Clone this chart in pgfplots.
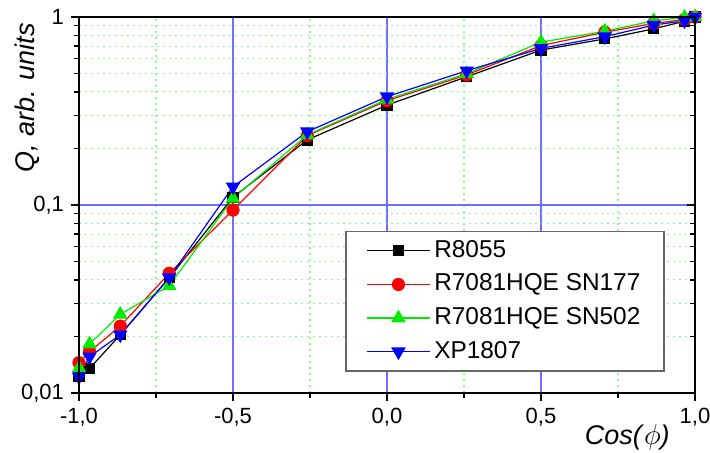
\documentclass[border=0pt]{standalone}
\usepackage{fontspec}
\setmainfont{Liberation Sans}
\usepackage{pgfplots}
\pgfplotsset{compat=1.18}
\definecolor{cgreen}{RGB}{0,235,0}
\definecolor{cblue}{RGB}{0,0,255}
\definecolor{cred}{RGB}{255,0,0}
\definecolor{majgrid}{RGB}{110,110,255}
\definecolor{mingrid}{RGB}{140,250,140}
\begin{document}
\begin{tikzpicture}
\begin{axis}[
  width=308pt, height=188pt, scale only axis,
  xmin=-1, xmax=1, ymin=0.01, ymax=1, ymode=log,
  axis line style={line width=0.8pt},
  xtick={-1,-0.5,0,0.5,1},
  xticklabels={{-1,0},{-0,5},{0,0},{0,5},{1,0}},
  minor x tick num=1,
  ytick={0.01,0.1,1},
  yticklabels={{0,01},{0,1},{1}},
  xtick pos=bottom, ytick pos=left,
  tick align=outside,
  major tick length=4pt, minor tick length=2.5pt,
  every tick/.style={black, line width=0.7pt},
  grid=both,
  major grid style={draw=majgrid, line width=0.6pt},
  minor grid style={draw=mingrid, line width=0.6pt, dash pattern=on 0.8pt off 2.2pt},
  tick label style={font=\fontsize{11}{13}\selectfont},
  xlabel={\textit{Cos(}$\phi$\textit{)}},
  ylabel={\textit{Q, arb. units}},
  every axis x label/.style={at={(axis description cs:0.89,-0.117)}, anchor=center, font=\fontsize{13.5}{16}\selectfont},
  every axis y label/.style={at={(axis description cs:-0.0844,0.785)}, rotate=90, anchor=center, font=\fontsize{13.5}{16}\selectfont},
  legend style={at={(axis description cs:0.951,0.056)}, anchor=south east,
    draw=black!60, line width=0.8pt, fill=white,
    font=\fontsize{12.2}{14}\selectfont,
    inner xsep=10pt, inner ysep=1.5pt, row sep=0.3pt,
    nodes={inner xsep=1.8pt, inner ysep=2.5pt, text height=9pt, text depth=2.5pt}},
  legend cell align=left,
  legend image code/.code={\draw[mark repeat=2,mark phase=2,#1] plot coordinates {(0cm,0cm) (0.555cm,0cm) (1.11cm,0cm)};},
]
\addplot[color=black, draw=black, line width=0.6pt, mark=square*, mark size=2.5pt, mark options={solid, fill=black, draw=black}] coordinates {
(-1,0.0122) (-0.9659,0.0135) (-0.8660,0.0204) (-0.7071,0.041) (-0.5,0.110) (-0.2588,0.222) (0,0.340) (0.2588,0.481) (0.5,0.667) (0.7071,0.765) (0.8660,0.865) (0.9659,0.95) (1,1.0)};
\addlegendentry{R8055}
\addplot[color=cred, draw=cred, line width=0.6pt, mark=*, mark size=3pt, mark options={solid, fill=cred, draw=cred}] coordinates {
(-1,0.0145) (-0.9659,0.0166) (-0.8660,0.0227) (-0.7071,0.0433) (-0.5,0.094) (-0.2588,0.234) (0,0.359) (0.2588,0.492) (0.5,0.705) (0.7071,0.83) (0.8660,0.925) (0.9659,0.97) (1,1.0)};
\addlegendentry{R7081HQE SN177}
\addplot[color=cgreen, draw=cgreen, line width=0.6pt, mark=triangle*, mark size=3.6pt, mark options={solid, fill=cgreen, draw=cgreen}] coordinates {
(-1,0.0136) (-0.9659,0.0182) (-0.8660,0.0262) (-0.7071,0.0372) (-0.5,0.1085) (-0.2588,0.236) (0,0.365) (0.2588,0.500) (0.5,0.735) (0.7071,0.84) (0.8660,0.955) (0.9659,0.995) (1,1.0)};
\addlegendentry{R7081HQE SN502}
\addplot[color=cblue, draw=cblue, line width=0.6pt, mark=triangle*, mark size=3.6pt, mark options={solid, rotate=180, fill=cblue, draw=cblue}] coordinates {
(-1,0.0122) (-0.9659,0.0156) (-0.8660,0.0204) (-0.7071,0.0411) (-0.5,0.125) (-0.2588,0.2455) (0,0.377) (0.2588,0.518) (0.5,0.681) (0.7071,0.786) (0.8660,0.906) (0.9659,0.955) (1,1.0)};
\addlegendentry{XP1807}
\end{axis}
\begin{axis}[
  width=308pt, height=188pt, scale only axis,
  xmin=-1, xmax=1, ymin=0.01, ymax=1, ymode=log,
  axis line style={line width=0.8pt},
  xtick=\empty,
  ytick={0.01,0.1,1}, yticklabels={},
  ytick pos=right, tick align=inside,
  major tick length=4pt, minor tick length=2.5pt,
  every tick/.style={black, line width=0.7pt},
]
\end{axis}
\pgfresetboundingbox
\path (-39.5pt,-29.5pt) rectangle (315.5pt,196.5pt);
\end{tikzpicture}
\end{document}
